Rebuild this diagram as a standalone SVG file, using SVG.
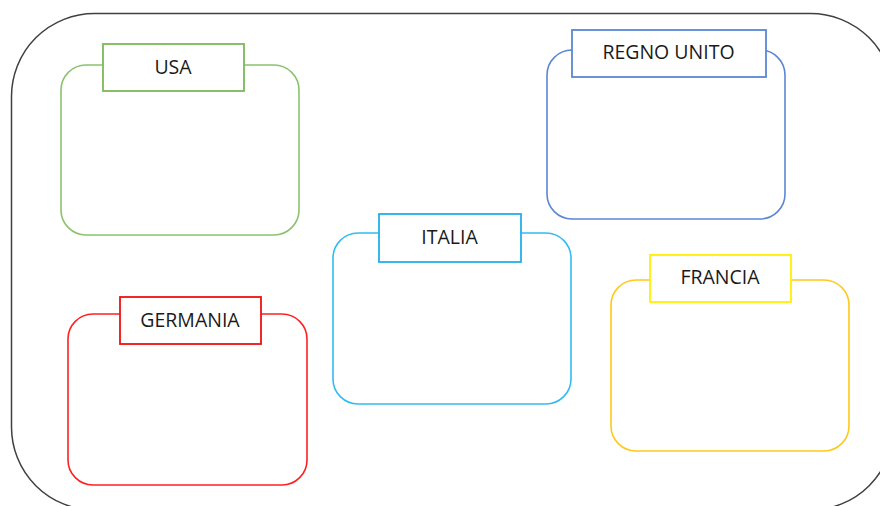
<svg xmlns="http://www.w3.org/2000/svg" width="880" height="506" viewBox="0 0 880 506">
<style>
.outer{fill:none;stroke:#404040;stroke-width:1.5}
.box{fill:#fff;stroke-width:1.6}
.lbl{fill:#fff;stroke-width:1.8}
.t{font-family:"Open Sans","Liberation Sans",sans-serif;font-size:19.5px;fill:#1a1a1a;text-anchor:middle}
</style>
<rect width="880" height="506" fill="#fff"/>
<rect class="outer" x="11.5" y="13.5" width="882" height="496.5" rx="83" ry="83"/>
<g id="usa">
<rect class="box" x="61" y="65" width="238" height="170" rx="25" stroke="#8BC26C"/>
<rect class="lbl" x="103" y="44" width="141" height="47" stroke="#7DB95A"/>
<text class="t" x="173" y="73.5">USA</text>
</g>
<g id="regno-unito">
<rect class="box" x="547" y="50" width="238" height="169" rx="25" stroke="#5B86D4"/>
<rect class="lbl" x="572" y="30" width="194" height="47" stroke="#5B86D4"/>
<text class="t" x="668.5" y="58.5">REGNO UNITO</text>
</g>
<g id="italia">
<rect class="box" x="333" y="233" width="238" height="171" rx="25" stroke="#33BBF0"/>
<rect class="lbl" x="379" y="214" width="142" height="48" stroke="#22B0E8"/>
<text class="t" x="449.5" y="244">ITALIA</text>
</g>
<g id="germania">
<rect class="box" x="68" y="314" width="239" height="171" rx="25" stroke="#FF2020"/>
<rect class="lbl" x="120" y="297" width="141" height="47" stroke="#EE1111"/>
<text class="t" x="190" y="327">GERMANIA</text>
</g>
<g id="francia">
<rect class="box" x="611" y="280" width="238" height="171" rx="25" stroke="#FFC81A"/>
<rect class="lbl" x="650" y="255" width="141" height="47" stroke="#FFF000"/>
<text class="t" x="720" y="284">FRANCIA</text>
</g>
<g id="connectors"></g>
</svg>
